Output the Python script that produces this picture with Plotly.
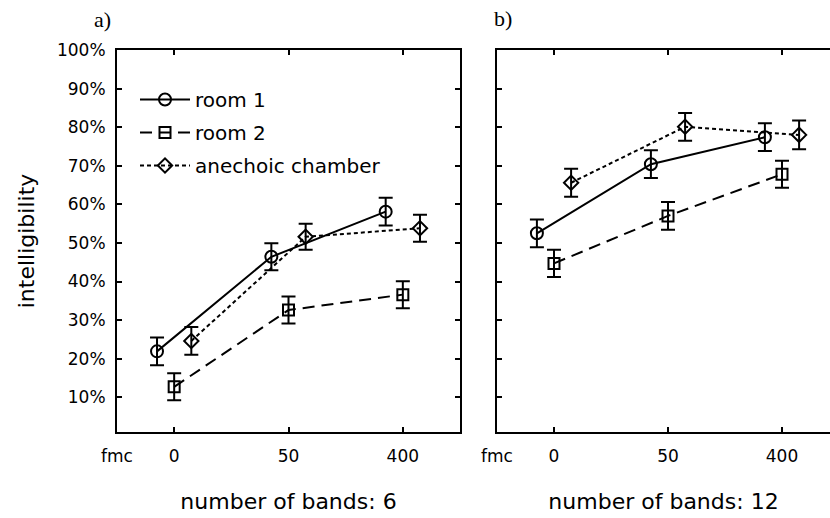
import plotly.graph_objects as go

# ---- data ----
categories = ["0", "50", "400"]
x_ticktext = ["fmc", "0", "50", "400"]
y_tickvals = [10, 20, 30, 40, 50, 60, 70, 80, 90, 100]
y_ticktext = [f"{v}%" for v in y_tickvals]

series_names = ["room 1", "room 2", "anechoic chamber"]

bands6_room1 = [21.9, 46.4, 58.1]
bands6_room1_err = [3.6, 3.5, 3.6]
bands6_room2 = [12.7, 32.6, 36.6]
bands6_room2_err = [3.5, 3.5, 3.5]
bands6_anechoic = [24.6, 51.6, 53.8]
bands6_anechoic_err = [3.6, 3.4, 3.5]

bands12_room1 = [52.5, 70.4, 77.4]
bands12_room1_err = [3.6, 3.6, 3.6]
bands12_room2 = [44.7, 57.0, 67.8]
bands12_room2_err = [3.5, 3.6, 3.5]
bands12_anechoic = [65.6, 80.1, 78.0]
bands12_anechoic_err = [3.6, 3.6, 3.7]

panel_titles = ["number of bands: 6", "number of bands: 12"]
panel_labels = ["a)", "b)"]

# ---- styles ----
W, H = 830, 518
offsets = [-0.15, 0.0, 0.15]
dashes = ["solid", "12px,7px", "4px,3px"]
symbols = ["circle-open", "square-open", "diamond-open"]
msizes = [12, 11, 11]
FONT = "DejaVu Sans"

panels = [
    ("x", "y", [(bands6_room1, bands6_room1_err), (bands6_room2, bands6_room2_err),
                (bands6_anechoic, bands6_anechoic_err)]),
    ("x2", "y2", [(bands12_room1, bands12_room1_err), (bands12_room2, bands12_room2_err),
                  (bands12_anechoic, bands12_anechoic_err)]),
]

fig = go.Figure()
for p, (xa, ya, data) in enumerate(panels):
    for i, (vals, errs) in enumerate(data):
        xs = [k + offsets[i] for k in range(len(categories))]
        fig.add_trace(go.Scatter(
            x=xs, y=vals, xaxis=xa, yaxis=ya,
            name=series_names[i], legendgroup=series_names[i],
            showlegend=(p == 0),
            mode="lines+markers",
            line=dict(color="black", width=2, dash=dashes[i]),
            marker=dict(symbol=symbols[i], size=msizes[i], color="black",
                        line=dict(width=2, color="black")),
            error_y=dict(type="data", array=errs, visible=True,
                         color="black", thickness=2, width=7),
        ))

axis_common = dict(
    showline=True, linecolor="black", linewidth=2,
    ticks="inside", ticklen=5, tickwidth=2, tickcolor="black",
    showgrid=False, zeroline=False, automargin=False,
    tickfont=dict(family=FONT, size=17, color="black"),
)

x_tickvals = [-0.5] + list(range(len(categories)))

fig.update_layout(
    width=W, height=H, autosize=False,
    margin=dict(l=0, r=0, t=0, b=0, pad=0),
    paper_bgcolor="white", plot_bgcolor="white",
    font=dict(family=FONT, color="black"),
    xaxis=dict(axis_common, domain=[117 / W, 460 / W], range=[-0.5, 2.5],
               tickvals=x_tickvals, ticktext=x_ticktext, mirror="ticks",
               ticklabelstandoff=8,
               title=dict(text=panel_titles[0], standoff=28,
                          font=dict(family=FONT, size=22, color="black"))),
    yaxis=dict(axis_common, domain=[86 / H, 468 / H], range=[1, 100],
               tickvals=y_tickvals, ticktext=y_ticktext, mirror="ticks",
               ticklabelstandoff=6,
               title=dict(text="intelligibility", standoff=16,
                          font=dict(family=FONT, size=22, color="black"))),
    xaxis2=dict(axis_common, domain=[497 / W, 1.0], range=[-0.5, (830 - 554) / 114],
                anchor="y2", tickvals=x_tickvals, ticktext=x_ticktext, mirror="ticks",
                ticklabelstandoff=8,
                title=dict(text=panel_titles[1], standoff=28,
                           font=dict(family=FONT, size=22, color="black"))),
    yaxis2=dict(axis_common, domain=[86 / H, 468 / H], range=[1, 100],
                anchor="x2", tickvals=y_tickvals, showticklabels=False, mirror=False),
    legend=dict(x=135 / W, y=1 - 80 / H, xanchor="left", yanchor="top",
                bgcolor="rgba(0,0,0,0)", itemwidth=50, tracegroupgap=4,
                font=dict(family=FONT, size=20, color="black")),
    showlegend=True,
)

fig.add_annotation(text=panel_labels[0], x=102 / W, y=1 - 19 / H, xref="paper", yref="paper",
                   xanchor="center", yanchor="middle", showarrow=False,
                   font=dict(family="Liberation Serif", size=22, color="black"))
fig.add_annotation(text=panel_labels[1], x=503 / W, y=1 - 18 / H, xref="paper", yref="paper",
                   xanchor="center", yanchor="middle", showarrow=False,
                   font=dict(family="Liberation Serif", size=22, color="black"))

fig.write_html("out.html")
